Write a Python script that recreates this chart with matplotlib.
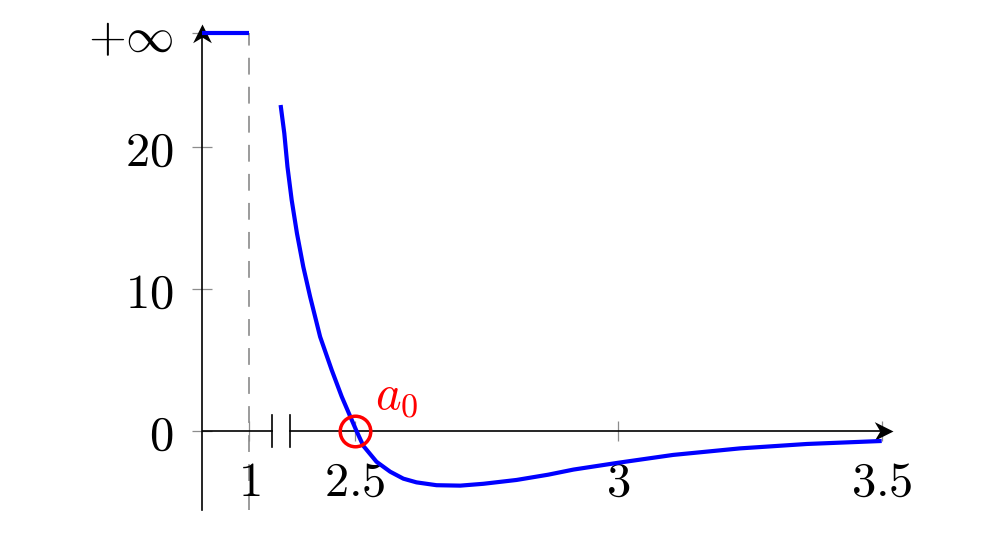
import numpy as np
import matplotlib
matplotlib.use("Agg")
import matplotlib.pyplot as plt
from matplotlib.path import Path

plt.rcParams["mathtext.fontset"] = "cm"
plt.rcParams["font.family"] = ["DejaVu Sans"]

# curve values
curve_x = [2.359, 2.366, 2.372, 2.380, 2.390, 2.402, 2.415, 2.434, 2.456, 2.475,
           2.494, 2.503, 2.516, 2.541, 2.567, 2.592, 2.617, 2.655, 2.700, 2.744,
           2.807, 2.867, 2.915, 3.000, 3.104, 3.231, 3.358, 3.500]
curve_y = [22.92, 20.93, 18.58, 16.24, 13.90, 11.55, 9.44, 6.62, 4.28, 2.41,
           0.77, 0.0, -1.05, -2.17, -2.87, -3.36, -3.62, -3.82, -3.85, -3.72,
           -3.45, -3.08, -2.72, -2.24, -1.69, -1.23, -0.92, -0.71]

# the "+infinity" level near x = 1
Y_INF = 28
inf_x = [0.9102, 1.0]
inf_y = [Y_INF, Y_INF]

root_x = 2.5
root_y = 0.0
root_label = r"$a_0$"

xticks = [1, 2.5, 3, 3.5]
xtick_labels = [r"$1$", r"$2.5$", r"$3$", r"$3.5$"]
yticks = [0, 10, 20, Y_INF]
ytick_labels = [r"$0$", r"$10$", r"$20$", r"$+\infty$"]

XMIN, XMAX = 0.9102, 3.53
YMIN, YMAX = -5.55, 28.8
BREAK_LEFT, BREAK_RIGHT = 1.0436, 2.376
X_TIP, Y_TIP = 3.522, 28.6

# broken x axis: the part around 1 is shifted right, the gap is squeezed
xp = [-100.0, 1.05, 2.355, 100.0]
up = [-100.0 + 1.299, 2.349, 2.355, 100.0]


def forward(x):
    return np.interp(x, xp, up)


def inverse(u):
    return np.interp(u, up, xp)


# stealth-like arrow heads (tip at the origin)
head_right = Path([(0, 0), (-1, 0.5), (-0.7, 0), (-1, -0.5), (0, 0)],
                  [Path.MOVETO, Path.LINETO, Path.LINETO, Path.LINETO, Path.CLOSEPOLY])
head_up = Path([(0, 0), (-0.5, -1), (0, -0.7), (0.5, -1), (0, 0)],
               [Path.MOVETO, Path.LINETO, Path.LINETO, Path.LINETO, Path.CLOSEPOLY])

fig = plt.figure(figsize=(9.99, 5.42), dpi=100)
ax = fig.add_axes([0.2019, 0.0594, 0.6965, 0.9011])
ax.set_xscale("function", functions=(forward, inverse))
ax.set_xlim(XMIN, XMAX)
ax.set_ylim(YMIN, YMAX)

for side in ["top", "right", "left", "bottom"]:
    ax.spines[side].set_color("none")
ax.spines["bottom"].set_position(("data", 0))

ax.set_xticks(xticks)
ax.set_xticklabels(xtick_labels)
ax.set_yticks(yticks)
ax.set_yticklabels(ytick_labels)
ax.minorticks_off()
ax.tick_params(axis="both", direction="inout", length=15, width=0.9,
               color="#8c8c8c", labelsize=35)
ax.tick_params(axis="x", pad=12)
ax.tick_params(axis="y", pad=13)

# axis lines
ax.plot([XMIN, XMIN], [YMIN, Y_TIP - 0.7], color="black", lw=1.2, zorder=2, clip_on=False)
ax.plot([XMIN], [Y_TIP], marker=head_up, markersize=27, color="black",
        markeredgewidth=0, zorder=2, clip_on=False)
ax.plot([XMIN, BREAK_LEFT], [0, 0], color="black", lw=1.2, zorder=2)
ax.plot([BREAK_RIGHT, X_TIP - 0.018], [0, 0], color="black", lw=1.2, zorder=2)
ax.plot([X_TIP], [0], marker=head_right, markersize=27, color="black",
        markeredgewidth=0, zorder=2, clip_on=False)
for bx in [BREAK_LEFT, BREAK_RIGHT]:
    ax.plot([bx, bx], [-1.13, 1.13], color="black", lw=1.2, zorder=2)

# dashed asymptote at x = 1
ax.plot([1, 1], [YMIN, Y_INF], color="#808080", lw=1.1, dashes=(11, 8), zorder=1)

ax.plot(inf_x, inf_y, color="blue", lw=3, solid_capstyle="butt", zorder=4)
ax.plot(curve_x, curve_y, color="blue", lw=3, solid_capstyle="butt",
        solid_joinstyle="round", zorder=4)

ax.plot([root_x], [root_y], marker="o", markersize=22, markerfacecolor="none",
        markeredgecolor="red", markeredgewidth=2.5, zorder=5)
ax.text(2.538, 2.5, root_label, color="red", fontsize=35, ha="left", va="center")

fig.savefig("out.png", dpi=100)
